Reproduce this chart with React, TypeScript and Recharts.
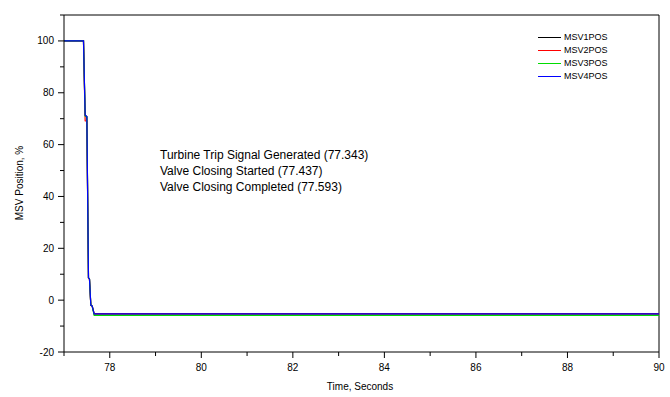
import React from 'react';
import { LineChart, Line, XAxis, YAxis, ReferenceLine } from 'recharts';

// Time (s) and valve position (%) for each main steam valve
const time1 = [77, 77.426, 77.462, 77.499, 77.535, 77.557, 77.586, 77.616, 77.659, 90];
const msv1 = [100, 100, 71.3, 70.8, 8.6, 8.2, -1.9, -2.3, -5.3, -5.3];
const time2 = [77, 77.426, 77.462, 77.499, 77.535, 77.557, 77.586, 77.616, 77.659, 90];
const msv2 = [100, 100, 69.2, 69.0, 8.4, 8.0, -2.0, -2.4, -5.3, -5.3];
const time3 = [77, 77.426, 77.462, 77.499, 77.535, 77.557, 77.586, 77.616, 77.659, 90];
const msv3 = [100, 100, 71.0, 70.6, 8.6, 8.2, -1.9, -2.3, -5.9, -5.9];
const time4 = [77, 77.426, 77.462, 77.499, 77.535, 77.557, 77.586, 77.616, 77.659, 90];
const msv4 = [100, 100, 71.3, 70.8, 8.6, 8.2, -1.9, -2.3, -5.3, -5.3];

const seriesNames = ['MSV1POS', 'MSV2POS', 'MSV3POS', 'MSV4POS'];
const seriesColors = ['#000000', '#ff0000', '#00dd00', '#0000ff'];

const xTicks = [77, 78, 79, 80, 81, 82, 83, 84, 85, 86, 87, 88, 89, 90];
const yTicks = [-20, -10, 0, 10, 20, 30, 40, 50, 60, 70, 80, 90, 100, 110];

const notes = [
  'Turbine Trip Signal Generated (77.343)',
  'Valve Closing Started (77.437)',
  'Valve Closing Completed (77.593)',
];

const FONT = '"Liberation Sans", Arial, Helvetica, sans-serif';

const toPoints = (t: number[], v: number[]) => t.map((tt, i) => ({ t: tt, v: v[i] }));
const seriesData = [toPoints(time1, msv1), toPoints(time2, msv2), toPoints(time3, msv3), toPoints(time4, msv4)];

const XTick = (props: any) => {
  const { x, y, payload } = props;
  const major = payload.value % 2 === 0;
  return (
    <g>
      <line x1={x} x2={x} y1={y} y2={y + (major ? 6 : 4)} stroke="#000" strokeWidth={1} />
      {major && (
        <text x={x} y={y + 15} textAnchor="middle" dominantBaseline="central" fontSize={10} fontFamily={FONT} fill="#000">
          {payload.value}
        </text>
      )}
    </g>
  );
};

const YTick = (props: any) => {
  const { x, y, payload } = props;
  const major = payload.value % 20 === 0;
  return (
    <g>
      <line x1={x} x2={x - (major ? 6 : 4)} y1={y} y2={y} stroke="#000" strokeWidth={1} />
      {major && (
        <text x={x - 10} y={y} textAnchor="end" dominantBaseline="central" fontSize={10} fontFamily={FONT} fill="#000">
          {payload.value}
        </text>
      )}
    </g>
  );
};

export default function App() {
  return (
    <div style={{ position: 'absolute', left: 0, top: 0, width: 670, height: 397, background: '#fff', fontFamily: FONT }}>
      <LineChart width={670} height={397} margin={{ top: 15, right: 11, left: 0, bottom: 0 }}>
        <XAxis
          type="number"
          dataKey="t"
          domain={[77, 90]}
          ticks={xTicks}
          allowDataOverflow
          interval={0}
          height={45}
          tickSize={0}
          tickMargin={0}
          tickLine={false}
          axisLine={{ stroke: '#000', strokeWidth: 1 }}
          tick={<XTick />}
        />
        <YAxis
          type="number"
          domain={[-20, 110]}
          ticks={yTicks}
          allowDataOverflow
          interval={0}
          width={64}
          tickSize={0}
          tickMargin={0}
          tickLine={false}
          axisLine={{ stroke: '#000', strokeWidth: 1 }}
          tick={<YTick />}
        />
        <ReferenceLine y={110} stroke="#000" strokeWidth={1} />
        <ReferenceLine x={90} stroke="#000" strokeWidth={1} />
        {seriesData.map((d, i) => (
          <Line
            key={seriesNames[i]}
            data={d}
            dataKey="v"
            name={seriesNames[i]}
            type="linear"
            stroke={seriesColors[i]}
            strokeWidth={1.2}
            dot={false}
            activeDot={false}
            isAnimationActive={false}
          />
        ))}
      </LineChart>

      {/* legend */}
      <div style={{ position: 'absolute', left: 538, top: 31, fontSize: 9, lineHeight: '13px', color: '#000' }}>
        {seriesNames.map((n, i) => (
          <div key={n} style={{ display: 'flex', alignItems: 'center', height: 13 }}>
            <div style={{ width: 23, height: 0, borderTop: `1px solid ${seriesColors[i]}`, marginRight: 3 }} />
            <span>{n}</span>
          </div>
        ))}
      </div>

      {/* annotation */}
      <div style={{ position: 'absolute', left: 160, top: 147, fontSize: 12, lineHeight: '16px', color: '#000', whiteSpace: 'nowrap' }}>
        {notes.map((n) => (
          <div key={n}>{n}</div>
        ))}
      </div>

      {/* axis titles */}
      <div style={{ position: 'absolute', left: 360, top: 381, transform: 'translateX(-50%)', fontSize: 10, lineHeight: '12px', whiteSpace: 'nowrap', color: '#000' }}>
        Time, Seconds
      </div>
      <div
        style={{
          position: 'absolute',
          left: 20,
          top: 183,
          transform: 'translate(-50%, -50%) rotate(-90deg)',
          fontSize: 10,
          lineHeight: '12px',
          whiteSpace: 'nowrap',
          color: '#000',
        }}
      >
        MSV Position, %
      </div>
    </div>
  );
}
